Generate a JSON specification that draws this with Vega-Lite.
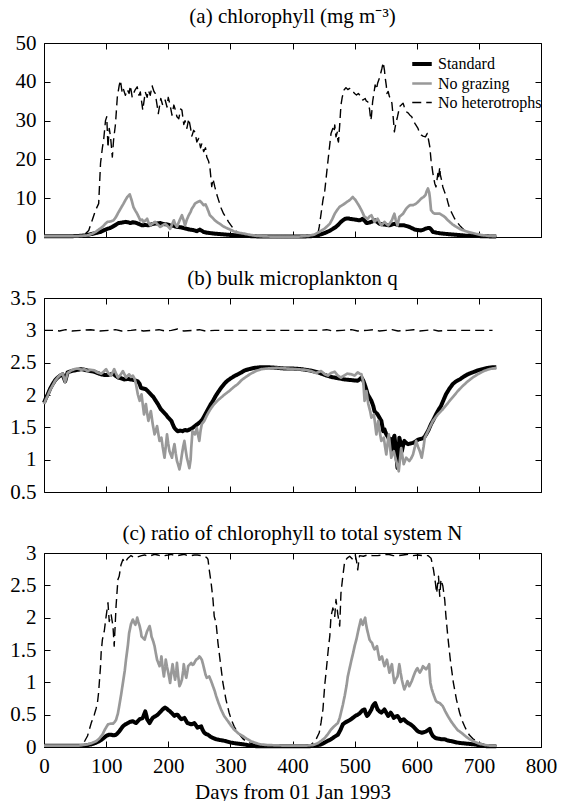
{
"$schema": "https://vega.github.io/schema/vega-lite/v6.json",
"background": "white",
"padding": {"left": 9, "right": 6, "top": 5, "bottom": 0},
"config": {
  "font": "Liberation Serif",
  "view": {"stroke": "black", "strokeWidth": 1},
  "axis": {"domain": false, "grid": false, "ticks": true, "tickSize": -6, "tickColor": "black", "tickWidth": 1, "labelFont": "Liberation Serif", "labelFontSize": 21, "labelColor": "black", "labelPadding": 14, "titleFont": "Liberation Serif", "titleFontSize": 21, "titleFontWeight": "normal", "titleColor": "black", "titlePadding": 5, "labelFlush": false, "labelOverlap": false},
  "title": {"font": "Liberation Serif", "fontSize": 21, "fontWeight": "normal", "color": "black", "anchor": "middle", "frame": "group"}
},
"resolve": {"scale": {"color": "independent", "strokeWidth": "independent", "strokeDash": "independent"}, "legend": {"color": "independent", "strokeWidth": "independent", "strokeDash": "independent"}},
"spacing": 61,
"bounds": "flush",
"datasets": {
"a": [
{"s":"H","d":0,"v":0.1},{"s":"H","d":20,"v":0.1},{"s":"H","d":40,"v":0.1},{"s":"H","d":55,"v":0.2},{"s":"H","d":65,"v":0.6},{"s":"H","d":72,"v":1.7},{"s":"H","d":78,"v":4.5},{"s":"H","d":83,"v":6.9},{"s":"H","d":88,"v":8.6},{"s":"H","d":91,"v":19},{"s":"H","d":94,"v":23},{"s":"H","d":96,"v":25},{"s":"H","d":99,"v":30},{"s":"H","d":101,"v":31},{"s":"H","d":103,"v":23},{"s":"H","d":105,"v":28},{"s":"H","d":107,"v":26},{"s":"H","d":110,"v":20.6},{"s":"H","d":112,"v":25},{"s":"H","d":115,"v":29},{"s":"H","d":118,"v":36},{"s":"H","d":121,"v":39},{"s":"H","d":123,"v":40.4},{"s":"H","d":126,"v":37},{"s":"H","d":128,"v":38},{"s":"H","d":131,"v":36.5},{"s":"H","d":134,"v":38},{"s":"H","d":137,"v":37},{"s":"H","d":139,"v":39},{"s":"H","d":142,"v":36},{"s":"H","d":144,"v":37},{"s":"H","d":147,"v":38},{"s":"H","d":150,"v":38.7},{"s":"H","d":153,"v":36.5},{"s":"H","d":155,"v":37.4},{"s":"H","d":159,"v":32.7},{"s":"H","d":163,"v":37.4},{"s":"H","d":166,"v":36},{"s":"H","d":168,"v":37.8},{"s":"H","d":171,"v":36.5},{"s":"H","d":174,"v":39},{"s":"H","d":177,"v":37.5},{"s":"H","d":179,"v":37},{"s":"H","d":182,"v":34},{"s":"H","d":184,"v":31.8},{"s":"H","d":188,"v":35.7},{"s":"H","d":191,"v":34},{"s":"H","d":195,"v":35.3},{"s":"H","d":198,"v":33.5},{"s":"H","d":200,"v":36},{"s":"H","d":203,"v":34},{"s":"H","d":206,"v":31.4},{"s":"H","d":209,"v":34},{"s":"H","d":211,"v":33},{"s":"H","d":214,"v":31},{"s":"H","d":217,"v":30.5},{"s":"H","d":220,"v":33},{"s":"H","d":222,"v":32.7},{"s":"H","d":225,"v":29},{"s":"H","d":227,"v":30},{"s":"H","d":230,"v":28},{"s":"H","d":233,"v":30.5},{"s":"H","d":236,"v":28},{"s":"H","d":238,"v":26},{"s":"H","d":241,"v":27.5},{"s":"H","d":243,"v":27},{"s":"H","d":246,"v":24.5},{"s":"H","d":249,"v":25.4},{"s":"H","d":252,"v":23},{"s":"H","d":254,"v":24},{"s":"H","d":257,"v":22},{"s":"H","d":260,"v":23},{"s":"H","d":262,"v":20.6},{"s":"H","d":265,"v":19.5},{"s":"H","d":267,"v":18},{"s":"H","d":270,"v":13},{"s":"H","d":272,"v":15},{"s":"H","d":275,"v":12.9},{"s":"H","d":278,"v":11},{"s":"H","d":281,"v":9.5},{"s":"H","d":285,"v":7.5},{"s":"H","d":289,"v":6},{"s":"H","d":293,"v":5},{"s":"H","d":297,"v":3.9},{"s":"H","d":301,"v":3},{"s":"H","d":305,"v":2.1},{"s":"H","d":310,"v":1.4},{"s":"H","d":316,"v":0.9},{"s":"H","d":324,"v":0.5},{"s":"H","d":332,"v":0.3},{"s":"H","d":345,"v":0.15},{"s":"H","d":360,"v":0.1},{"s":"H","d":380,"v":0.1},{"s":"H","d":400,"v":0.1},{"s":"H","d":420,"v":0.15},{"s":"H","d":432,"v":0.4},{"s":"H","d":437,"v":0.7},{"s":"H","d":441,"v":0.9},{"s":"H","d":443,"v":2.6},{"s":"H","d":446,"v":6},{"s":"H","d":449,"v":9.5},{"s":"H","d":452,"v":12},{"s":"H","d":454,"v":15},{"s":"H","d":456,"v":18},{"s":"H","d":459,"v":22.4},{"s":"H","d":462,"v":26.7},{"s":"H","d":465,"v":28},{"s":"H","d":467,"v":27},{"s":"H","d":468,"v":28.9},{"s":"H","d":470,"v":25.8},{"s":"H","d":472,"v":27},{"s":"H","d":473,"v":25},{"s":"H","d":474,"v":24.5},{"s":"H","d":476,"v":28.9},{"s":"H","d":478,"v":34},{"s":"H","d":480,"v":36},{"s":"H","d":483,"v":37.9},{"s":"H","d":486,"v":38.5},{"s":"H","d":489,"v":38},{"s":"H","d":492,"v":38.3},{"s":"H","d":495,"v":37.5},{"s":"H","d":497,"v":37.5},{"s":"H","d":500,"v":37},{"s":"H","d":503,"v":36.6},{"s":"H","d":506,"v":37},{"s":"H","d":508,"v":36.6},{"s":"H","d":511,"v":36},{"s":"H","d":513,"v":35.3},{"s":"H","d":517,"v":35.7},{"s":"H","d":519,"v":35},{"s":"H","d":521,"v":34.9},{"s":"H","d":524,"v":33},{"s":"H","d":526,"v":30.1},{"s":"H","d":527,"v":31},{"s":"H","d":529,"v":34.9},{"s":"H","d":531,"v":37},{"s":"H","d":533,"v":39.2},{"s":"H","d":535,"v":38},{"s":"H","d":537,"v":39.6},{"s":"H","d":540,"v":41},{"s":"H","d":542,"v":42.2},{"s":"H","d":544,"v":43.5},{"s":"H","d":546,"v":45},{"s":"H","d":548,"v":43},{"s":"H","d":549,"v":41.3},{"s":"H","d":551,"v":39},{"s":"H","d":552,"v":37},{"s":"H","d":554,"v":37.5},{"s":"H","d":556,"v":36.2},{"s":"H","d":558,"v":35.5},{"s":"H","d":560,"v":34.5},{"s":"H","d":562,"v":31},{"s":"H","d":564,"v":27.1},{"s":"H","d":566,"v":29},{"s":"H","d":569,"v":31},{"s":"H","d":571,"v":32.5},{"s":"H","d":572,"v":33.6},{"s":"H","d":575,"v":34},{"s":"H","d":578,"v":34.5},{"s":"H","d":580,"v":33.5},{"s":"H","d":583,"v":32.3},{"s":"H","d":586,"v":32},{"s":"H","d":589,"v":31.4},{"s":"H","d":592,"v":31},{"s":"H","d":594,"v":30.1},{"s":"H","d":598,"v":29},{"s":"H","d":602,"v":28},{"s":"H","d":604,"v":27},{"s":"H","d":607,"v":26.3},{"s":"H","d":610,"v":26},{"s":"H","d":614,"v":25.8},{"s":"H","d":617,"v":26.7},{"s":"H","d":619,"v":25},{"s":"H","d":621,"v":23.3},{"s":"H","d":623,"v":19.8},{"s":"H","d":626,"v":16.4},{"s":"H","d":629,"v":13.8},{"s":"H","d":631,"v":12.9},{"s":"H","d":632,"v":14},{"s":"H","d":634,"v":16.4},{"s":"H","d":635,"v":15},{"s":"H","d":637,"v":18},{"s":"H","d":638,"v":16},{"s":"H","d":640,"v":14.6},{"s":"H","d":642,"v":12.9},{"s":"H","d":645,"v":11.5},{"s":"H","d":648,"v":10.3},{"s":"H","d":650,"v":9},{"s":"H","d":653,"v":7.3},{"s":"H","d":657,"v":6},{"s":"H","d":661,"v":4.7},{"s":"H","d":665,"v":3.8},{"s":"H","d":669,"v":3},{"s":"H","d":673,"v":2.3},{"s":"H","d":677,"v":1.7},{"s":"H","d":682,"v":1.2},{"s":"H","d":688,"v":0.9},{"s":"H","d":695,"v":0.5},{"s":"H","d":704,"v":0.3},{"s":"H","d":715,"v":0.15},{"s":"H","d":728,"v":0.1},
{"s":"S","d":0,"v":0.2},{"s":"S","d":20,"v":0.2},{"s":"S","d":40,"v":0.2},{"s":"S","d":55,"v":0.25},{"s":"S","d":65,"v":0.4},{"s":"S","d":72,"v":0.6},{"s":"S","d":80,"v":0.9},{"s":"S","d":86,"v":1.1},{"s":"S","d":91,"v":1.3},{"s":"S","d":96,"v":1.7},{"s":"S","d":102,"v":2.1},{"s":"S","d":106,"v":2.3},{"s":"S","d":110,"v":2.6},{"s":"S","d":115,"v":3.1},{"s":"S","d":120,"v":3.6},{"s":"S","d":125,"v":3.7},{"s":"S","d":131,"v":3.9},{"s":"S","d":135,"v":3.8},{"s":"S","d":139,"v":3.6},{"s":"S","d":143,"v":3.8},{"s":"S","d":147,"v":3.7},{"s":"S","d":152,"v":3.4},{"s":"S","d":158,"v":3.0},{"s":"S","d":163,"v":3.1},{"s":"S","d":168,"v":3.0},{"s":"S","d":172,"v":3.2},{"s":"S","d":176,"v":3.4},{"s":"S","d":182,"v":3.5},{"s":"S","d":187,"v":3.6},{"s":"S","d":191,"v":3.4},{"s":"S","d":195,"v":3.3},{"s":"S","d":199,"v":3.2},{"s":"S","d":203,"v":3.0},{"s":"S","d":208,"v":2.9},{"s":"S","d":214,"v":2.6},{"s":"S","d":220,"v":2.5},{"s":"S","d":225,"v":2.3},{"s":"S","d":230,"v":2.1},{"s":"S","d":235,"v":1.9},{"s":"S","d":240,"v":1.8},{"s":"S","d":246,"v":1.5},{"s":"S","d":251,"v":1.9},{"s":"S","d":254,"v":1.6},{"s":"S","d":257,"v":1.3},{"s":"S","d":262,"v":1.1},{"s":"S","d":268,"v":1.0},{"s":"S","d":273,"v":0.9},{"s":"S","d":283,"v":0.75},{"s":"S","d":294,"v":0.6},{"s":"S","d":308,"v":0.45},{"s":"S","d":321,"v":0.3},{"s":"S","d":335,"v":0.2},{"s":"S","d":353,"v":0.1},{"s":"S","d":370,"v":0.1},{"s":"S","d":390,"v":0.1},{"s":"S","d":410,"v":0.1},{"s":"S","d":430,"v":0.2},{"s":"S","d":440,"v":0.4},{"s":"S","d":446,"v":0.7},{"s":"S","d":453,"v":1.1},{"s":"S","d":460,"v":1.6},{"s":"S","d":465,"v":2.1},{"s":"S","d":470,"v":2.6},{"s":"S","d":474,"v":3.2},{"s":"S","d":478,"v":3.9},{"s":"S","d":482,"v":4.4},{"s":"S","d":485,"v":4.7},{"s":"S","d":489,"v":4.8},{"s":"S","d":492,"v":4.7},{"s":"S","d":496,"v":4.6},{"s":"S","d":500,"v":4.5},{"s":"S","d":504,"v":4.4},{"s":"S","d":508,"v":4.3},{"s":"S","d":511,"v":4.5},{"s":"S","d":513,"v":4.7},{"s":"S","d":516,"v":4.2},{"s":"S","d":519,"v":3.6},{"s":"S","d":523,"v":3.7},{"s":"S","d":527,"v":3.9},{"s":"S","d":530,"v":4.1},{"s":"S","d":533,"v":4.3},{"s":"S","d":537,"v":3.8},{"s":"S","d":540,"v":3.4},{"s":"S","d":544,"v":3.3},{"s":"S","d":548,"v":3.2},{"s":"S","d":552,"v":3.1},{"s":"S","d":556,"v":3.0},{"s":"S","d":560,"v":3.2},{"s":"S","d":564,"v":3.4},{"s":"S","d":568,"v":3.2},{"s":"S","d":572,"v":3.0},{"s":"S","d":576,"v":3.0},{"s":"S","d":580,"v":3.0},{"s":"S","d":584,"v":2.8},{"s":"S","d":588,"v":2.6},{"s":"S","d":592,"v":2.3},{"s":"S","d":597,"v":1.9},{"s":"S","d":602,"v":1.8},{"s":"S","d":607,"v":1.7},{"s":"S","d":611,"v":1.9},{"s":"S","d":615,"v":2.2},{"s":"S","d":618,"v":2.3},{"s":"S","d":621,"v":2.3},{"s":"S","d":624,"v":1.8},{"s":"S","d":626,"v":1.3},{"s":"S","d":632,"v":1.1},{"s":"S","d":640,"v":0.9},{"s":"S","d":650,"v":0.75},{"s":"S","d":661,"v":0.6},{"s":"S","d":672,"v":0.45},{"s":"S","d":682,"v":0.3},{"s":"S","d":695,"v":0.25},{"s":"S","d":709,"v":0.2},{"s":"S","d":728,"v":0.1},
{"s":"G","d":0,"v":0.2},{"s":"G","d":20,"v":0.2},{"s":"G","d":40,"v":0.2},{"s":"G","d":55,"v":0.25},{"s":"G","d":65,"v":0.35},{"s":"G","d":70,"v":0.4},{"s":"G","d":77,"v":0.8},{"s":"G","d":83,"v":1.3},{"s":"G","d":88,"v":1.9},{"s":"G","d":94,"v":2.6},{"s":"G","d":98,"v":3.3},{"s":"G","d":102,"v":3.9},{"s":"G","d":107,"v":4.0},{"s":"G","d":112,"v":4.3},{"s":"G","d":116,"v":5.2},{"s":"G","d":120,"v":6.4},{"s":"G","d":124,"v":7.5},{"s":"G","d":128,"v":8.6},{"s":"G","d":131,"v":9.5},{"s":"G","d":134,"v":10.3},{"s":"G","d":138,"v":11},{"s":"G","d":141,"v":9.5},{"s":"G","d":144,"v":7.7},{"s":"G","d":147,"v":6.8},{"s":"G","d":150,"v":6},{"s":"G","d":153,"v":5},{"s":"G","d":155,"v":4.3},{"s":"G","d":158,"v":4.5},{"s":"G","d":160,"v":3.9},{"s":"G","d":163,"v":4.2},{"s":"G","d":166,"v":4.7},{"s":"G","d":168,"v":3.8},{"s":"G","d":171,"v":3},{"s":"G","d":175,"v":3.5},{"s":"G","d":179,"v":3.9},{"s":"G","d":183,"v":3.2},{"s":"G","d":187,"v":2.6},{"s":"G","d":191,"v":3.0},{"s":"G","d":195,"v":3.4},{"s":"G","d":199,"v":2.8},{"s":"G","d":203,"v":2.1},{"s":"G","d":206,"v":3.2},{"s":"G","d":209,"v":4.3},{"s":"G","d":211,"v":3.4},{"s":"G","d":214,"v":2.6},{"s":"G","d":218,"v":4.2},{"s":"G","d":222,"v":5.6},{"s":"G","d":225,"v":4.2},{"s":"G","d":227,"v":3},{"s":"G","d":230,"v":4.5},{"s":"G","d":233,"v":5.6},{"s":"G","d":236,"v":6.5},{"s":"G","d":238,"v":7.3},{"s":"G","d":241,"v":8},{"s":"G","d":243,"v":8.6},{"s":"G","d":247,"v":9.0},{"s":"G","d":251,"v":9.3},{"s":"G","d":254,"v":8.8},{"s":"G","d":257,"v":8.2},{"s":"G","d":260,"v":8.4},{"s":"G","d":262,"v":7.7},{"s":"G","d":265,"v":6.5},{"s":"G","d":267,"v":5.6},{"s":"G","d":271,"v":5.0},{"s":"G","d":275,"v":4.3},{"s":"G","d":279,"v":3.8},{"s":"G","d":283,"v":3.4},{"s":"G","d":288,"v":2.8},{"s":"G","d":294,"v":2.3},{"s":"G","d":300,"v":1.9},{"s":"G","d":305,"v":1.5},{"s":"G","d":313,"v":1.1},{"s":"G","d":321,"v":0.9},{"s":"G","d":330,"v":0.6},{"s":"G","d":342,"v":0.3},{"s":"G","d":355,"v":0.15},{"s":"G","d":370,"v":0.1},{"s":"G","d":390,"v":0.1},{"s":"G","d":410,"v":0.1},{"s":"G","d":425,"v":0.3},{"s":"G","d":435,"v":0.6},{"s":"G","d":443,"v":1.3},{"s":"G","d":448,"v":1.8},{"s":"G","d":452,"v":2.2},{"s":"G","d":456,"v":2.8},{"s":"G","d":460,"v":3.4},{"s":"G","d":464,"v":4.6},{"s":"G","d":468,"v":6},{"s":"G","d":472,"v":7},{"s":"G","d":476,"v":7.8},{"s":"G","d":480,"v":8.2},{"s":"G","d":484,"v":8.6},{"s":"G","d":488,"v":9.1},{"s":"G","d":492,"v":9.5},{"s":"G","d":497,"v":10.3},{"s":"G","d":501,"v":9.6},{"s":"G","d":505,"v":8.6},{"s":"G","d":508,"v":7.8},{"s":"G","d":511,"v":6.9},{"s":"G","d":516,"v":5.2},{"s":"G","d":521,"v":4.7},{"s":"G","d":524,"v":5.3},{"s":"G","d":527,"v":5.6},{"s":"G","d":530,"v":4.6},{"s":"G","d":532,"v":3.9},{"s":"G","d":535,"v":4.4},{"s":"G","d":537,"v":4.7},{"s":"G","d":540,"v":3.8},{"s":"G","d":543,"v":3},{"s":"G","d":546,"v":3.5},{"s":"G","d":548,"v":3.9},{"s":"G","d":551,"v":3.4},{"s":"G","d":554,"v":3},{"s":"G","d":557,"v":3.6},{"s":"G","d":560,"v":4.3},{"s":"G","d":562,"v":5.2},{"s":"G","d":564,"v":6},{"s":"G","d":566,"v":4.5},{"s":"G","d":569,"v":3},{"s":"G","d":572,"v":5.2},{"s":"G","d":575,"v":5.6},{"s":"G","d":578,"v":6},{"s":"G","d":581,"v":6.8},{"s":"G","d":583,"v":7.3},{"s":"G","d":586,"v":7.8},{"s":"G","d":589,"v":8.2},{"s":"G","d":594,"v":8.2},{"s":"G","d":599,"v":8.6},{"s":"G","d":603,"v":9.2},{"s":"G","d":607,"v":9.9},{"s":"G","d":611,"v":10.3},{"s":"G","d":614,"v":10.8},{"s":"G","d":616,"v":11.8},{"s":"G","d":618,"v":12.5},{"s":"G","d":620,"v":11.5},{"s":"G","d":621,"v":10.3},{"s":"G","d":623,"v":6.9},{"s":"G","d":626,"v":6.3},{"s":"G","d":629,"v":6},{"s":"G","d":633,"v":6},{"s":"G","d":637,"v":6},{"s":"G","d":641,"v":5.6},{"s":"G","d":645,"v":5.2},{"s":"G","d":649,"v":4.5},{"s":"G","d":653,"v":3.9},{"s":"G","d":658,"v":3.2},{"s":"G","d":664,"v":2.6},{"s":"G","d":670,"v":2},{"s":"G","d":677,"v":1.6},{"s":"G","d":685,"v":1.2},{"s":"G","d":693,"v":0.9},{"s":"G","d":704,"v":0.5},{"s":"G","d":715,"v":0.3},{"s":"G","d":728,"v":0.2}
],
"b": [
{"s":"H","d":0,"v":3.0},{"s":"H","d":15,"v":3.0},{"s":"H","d":25,"v":2.99},{"s":"H","d":35,"v":3.01},{"s":"H","d":45,"v":2.99},{"s":"H","d":60,"v":3.0},{"s":"H","d":75,"v":3.01},{"s":"H","d":90,"v":2.99},{"s":"H","d":105,"v":3.0},{"s":"H","d":115,"v":3.01},{"s":"H","d":125,"v":2.99},{"s":"H","d":140,"v":3.0},{"s":"H","d":150,"v":3.01},{"s":"H","d":160,"v":2.99},{"s":"H","d":175,"v":3.0},{"s":"H","d":185,"v":3.01},{"s":"H","d":195,"v":2.99},{"s":"H","d":205,"v":3.0},{"s":"H","d":215,"v":3.02},{"s":"H","d":225,"v":2.99},{"s":"H","d":240,"v":3.0},{"s":"H","d":250,"v":3.01},{"s":"H","d":260,"v":2.99},{"s":"H","d":275,"v":3.0},{"s":"H","d":290,"v":3.0},{"s":"H","d":310,"v":3.0},{"s":"H","d":330,"v":3.0},{"s":"H","d":350,"v":3.0},{"s":"H","d":370,"v":3.0},{"s":"H","d":390,"v":3.0},{"s":"H","d":410,"v":3.0},{"s":"H","d":430,"v":3.0},{"s":"H","d":445,"v":3.0},{"s":"H","d":455,"v":3.01},{"s":"H","d":465,"v":2.99},{"s":"H","d":480,"v":3.0},{"s":"H","d":495,"v":3.01},{"s":"H","d":505,"v":2.99},{"s":"H","d":520,"v":3.0},{"s":"H","d":530,"v":3.01},{"s":"H","d":540,"v":2.99},{"s":"H","d":550,"v":3.0},{"s":"H","d":560,"v":3.01},{"s":"H","d":570,"v":2.99},{"s":"H","d":585,"v":3.0},{"s":"H","d":595,"v":3.01},{"s":"H","d":605,"v":2.99},{"s":"H","d":615,"v":3.0},{"s":"H","d":625,"v":3.01},{"s":"H","d":635,"v":2.99},{"s":"H","d":650,"v":3.0},{"s":"H","d":665,"v":3.0},{"s":"H","d":680,"v":3.0},{"s":"H","d":700,"v":3.0},{"s":"H","d":722,"v":3.0},
{"s":"S","d":0,"v":1.88},{"s":"S","d":3,"v":1.95},{"s":"S","d":6,"v":2.01},{"s":"S","d":10,"v":2.1},{"s":"S","d":14,"v":2.17},{"s":"S","d":18,"v":2.23},{"s":"S","d":22,"v":2.27},{"s":"S","d":26,"v":2.3},{"s":"S","d":30,"v":2.32},{"s":"S","d":34,"v":2.21},{"s":"S","d":38,"v":2.35},{"s":"S","d":44,"v":2.37},{"s":"S","d":49,"v":2.38},{"s":"S","d":55,"v":2.39},{"s":"S","d":60,"v":2.4},{"s":"S","d":65,"v":2.39},{"s":"S","d":70,"v":2.38},{"s":"S","d":75,"v":2.37},{"s":"S","d":81,"v":2.36},{"s":"S","d":86,"v":2.34},{"s":"S","d":92,"v":2.32},{"s":"S","d":97,"v":2.31},{"s":"S","d":103,"v":2.31},{"s":"S","d":108,"v":2.32},{"s":"S","d":111,"v":2.33},{"s":"S","d":115,"v":2.3},{"s":"S","d":119,"v":2.27},{"s":"S","d":124,"v":2.26},{"s":"S","d":129,"v":2.24},{"s":"S","d":135,"v":2.25},{"s":"S","d":140,"v":2.24},{"s":"S","d":146,"v":2.23},{"s":"S","d":151,"v":2.21},{"s":"S","d":154,"v":2.17},{"s":"S","d":156,"v":2.11},{"s":"S","d":160,"v":2.1},{"s":"S","d":164,"v":2.09},{"s":"S","d":168,"v":2.05},{"s":"S","d":172,"v":2.01},{"s":"S","d":176,"v":1.97},{"s":"S","d":180,"v":1.91},{"s":"S","d":184,"v":1.85},{"s":"S","d":188,"v":1.78},{"s":"S","d":192,"v":1.74},{"s":"S","d":196,"v":1.7},{"s":"S","d":200,"v":1.65},{"s":"S","d":205,"v":1.6},{"s":"S","d":208,"v":1.53},{"s":"S","d":210,"v":1.49},{"s":"S","d":213,"v":1.46},{"s":"S","d":215,"v":1.44},{"s":"S","d":219,"v":1.45},{"s":"S","d":223,"v":1.44},{"s":"S","d":227,"v":1.46},{"s":"S","d":231,"v":1.45},{"s":"S","d":235,"v":1.47},{"s":"S","d":239,"v":1.49},{"s":"S","d":243,"v":1.52},{"s":"S","d":247,"v":1.55},{"s":"S","d":251,"v":1.58},{"s":"S","d":255,"v":1.62},{"s":"S","d":259,"v":1.69},{"s":"S","d":264,"v":1.78},{"s":"S","d":268,"v":1.85},{"s":"S","d":272,"v":1.91},{"s":"S","d":276,"v":1.98},{"s":"S","d":280,"v":2.04},{"s":"S","d":285,"v":2.11},{"s":"S","d":290,"v":2.17},{"s":"S","d":295,"v":2.22},{"s":"S","d":301,"v":2.26},{"s":"S","d":306,"v":2.29},{"s":"S","d":312,"v":2.32},{"s":"S","d":318,"v":2.35},{"s":"S","d":323,"v":2.38},{"s":"S","d":330,"v":2.4},{"s":"S","d":339,"v":2.42},{"s":"S","d":350,"v":2.43},{"s":"S","d":360,"v":2.43},{"s":"S","d":375,"v":2.42},{"s":"S","d":387,"v":2.41},{"s":"S","d":400,"v":2.41},{"s":"S","d":414,"v":2.4},{"s":"S","d":428,"v":2.38},{"s":"S","d":441,"v":2.35},{"s":"S","d":452,"v":2.31},{"s":"S","d":462,"v":2.28},{"s":"S","d":473,"v":2.26},{"s":"S","d":484,"v":2.24},{"s":"S","d":495,"v":2.23},{"s":"S","d":505,"v":2.22},{"s":"S","d":509,"v":2.25},{"s":"S","d":511,"v":2.27},{"s":"S","d":514,"v":2.22},{"s":"S","d":516,"v":2.17},{"s":"S","d":519,"v":2.08},{"s":"S","d":521,"v":2.01},{"s":"S","d":524,"v":1.96},{"s":"S","d":527,"v":1.91},{"s":"S","d":530,"v":1.83},{"s":"S","d":532,"v":1.75},{"s":"S","d":535,"v":1.72},{"s":"S","d":537,"v":1.7},{"s":"S","d":540,"v":1.65},{"s":"S","d":543,"v":1.6},{"s":"S","d":546,"v":1.44},{"s":"S","d":548,"v":1.47},{"s":"S","d":551,"v":1.39},{"s":"S","d":554,"v":1.35},{"s":"S","d":556,"v":1.29},{"s":"S","d":558,"v":1.32},{"s":"S","d":560,"v":1.13},{"s":"S","d":562,"v":1.3},{"s":"S","d":564,"v":1.37},{"s":"S","d":566,"v":1.2},{"s":"S","d":569,"v":0.87},{"s":"S","d":571,"v":1.1},{"s":"S","d":572,"v":1.34},{"s":"S","d":574,"v":1.25},{"s":"S","d":576,"v":1.13},{"s":"S","d":578,"v":1.22},{"s":"S","d":580,"v":1.29},{"s":"S","d":583,"v":1.26},{"s":"S","d":586,"v":1.24},{"s":"S","d":590,"v":1.25},{"s":"S","d":594,"v":1.26},{"s":"S","d":598,"v":1.28},{"s":"S","d":602,"v":1.31},{"s":"S","d":606,"v":1.32},{"s":"S","d":610,"v":1.33},{"s":"S","d":613,"v":1.36},{"s":"S","d":615,"v":1.39},{"s":"S","d":619,"v":1.46},{"s":"S","d":623,"v":1.55},{"s":"S","d":627,"v":1.62},{"s":"S","d":631,"v":1.7},{"s":"S","d":635,"v":1.77},{"s":"S","d":639,"v":1.83},{"s":"S","d":643,"v":1.92},{"s":"S","d":647,"v":2.01},{"s":"S","d":652,"v":2.09},{"s":"S","d":658,"v":2.17},{"s":"S","d":663,"v":2.21},{"s":"S","d":669,"v":2.24},{"s":"S","d":675,"v":2.28},{"s":"S","d":682,"v":2.32},{"s":"S","d":690,"v":2.35},{"s":"S","d":698,"v":2.38},{"s":"S","d":706,"v":2.4},{"s":"S","d":715,"v":2.42},{"s":"S","d":723,"v":2.43},{"s":"S","d":728,"v":2.43},
{"s":"G","d":0,"v":1.86},{"s":"G","d":3,"v":1.93},{"s":"G","d":6,"v":1.99},{"s":"G","d":10,"v":2.08},{"s":"G","d":14,"v":2.15},{"s":"G","d":18,"v":2.22},{"s":"G","d":22,"v":2.27},{"s":"G","d":26,"v":2.31},{"s":"G","d":30,"v":2.33},{"s":"G","d":34,"v":2.2},{"s":"G","d":38,"v":2.34},{"s":"G","d":44,"v":2.38},{"s":"G","d":49,"v":2.4},{"s":"G","d":54,"v":2.41},{"s":"G","d":60,"v":2.39},{"s":"G","d":65,"v":2.4},{"s":"G","d":70,"v":2.37},{"s":"G","d":75,"v":2.39},{"s":"G","d":81,"v":2.38},{"s":"G","d":86,"v":2.35},{"s":"G","d":92,"v":2.33},{"s":"G","d":96,"v":2.36},{"s":"G","d":100,"v":2.4},{"s":"G","d":104,"v":2.33},{"s":"G","d":108,"v":2.3},{"s":"G","d":113,"v":2.4},{"s":"G","d":116,"v":2.33},{"s":"G","d":119,"v":2.27},{"s":"G","d":123,"v":2.31},{"s":"G","d":127,"v":2.37},{"s":"G","d":132,"v":2.27},{"s":"G","d":137,"v":2.32},{"s":"G","d":140,"v":2.28},{"s":"G","d":143,"v":2.3},{"s":"G","d":146,"v":2.25},{"s":"G","d":148,"v":2.17},{"s":"G","d":151,"v":2.01},{"s":"G","d":154,"v":1.91},{"s":"G","d":157,"v":2.01},{"s":"G","d":159,"v":1.85},{"s":"G","d":161,"v":1.7},{"s":"G","d":164,"v":1.86},{"s":"G","d":166,"v":1.72},{"s":"G","d":168,"v":1.6},{"s":"G","d":170,"v":1.68},{"s":"G","d":172,"v":1.75},{"s":"G","d":175,"v":1.55},{"s":"G","d":178,"v":1.39},{"s":"G","d":180,"v":1.45},{"s":"G","d":182,"v":1.52},{"s":"G","d":184,"v":1.4},{"s":"G","d":186,"v":1.29},{"s":"G","d":189,"v":1.34},{"s":"G","d":191,"v":1.2},{"s":"G","d":194,"v":1.03},{"s":"G","d":196,"v":1.2},{"s":"G","d":198,"v":1.39},{"s":"G","d":200,"v":1.25},{"s":"G","d":202,"v":1.13},{"s":"G","d":204,"v":1.08},{"s":"G","d":206,"v":1.03},{"s":"G","d":208,"v":1.15},{"s":"G","d":210,"v":1.24},{"s":"G","d":212,"v":1.1},{"s":"G","d":214,"v":0.98},{"s":"G","d":216,"v":0.92},{"s":"G","d":218,"v":0.85},{"s":"G","d":220,"v":0.95},{"s":"G","d":222,"v":1.08},{"s":"G","d":224,"v":1.2},{"s":"G","d":226,"v":1.29},{"s":"G","d":228,"v":1.15},{"s":"G","d":230,"v":1.03},{"s":"G","d":232,"v":0.95},{"s":"G","d":234,"v":0.87},{"s":"G","d":236,"v":1.0},{"s":"G","d":237,"v":1.18},{"s":"G","d":239,"v":1.44},{"s":"G","d":241,"v":1.42},{"s":"G","d":243,"v":1.39},{"s":"G","d":246,"v":1.49},{"s":"G","d":248,"v":1.38},{"s":"G","d":250,"v":1.29},{"s":"G","d":252,"v":1.45},{"s":"G","d":254,"v":1.55},{"s":"G","d":258,"v":1.6},{"s":"G","d":262,"v":1.68},{"s":"G","d":266,"v":1.75},{"s":"G","d":270,"v":1.81},{"s":"G","d":274,"v":1.86},{"s":"G","d":280,"v":1.92},{"s":"G","d":285,"v":1.96},{"s":"G","d":291,"v":2.01},{"s":"G","d":298,"v":2.06},{"s":"G","d":305,"v":2.12},{"s":"G","d":312,"v":2.17},{"s":"G","d":318,"v":2.23},{"s":"G","d":325,"v":2.28},{"s":"G","d":333,"v":2.33},{"s":"G","d":341,"v":2.37},{"s":"G","d":350,"v":2.4},{"s":"G","d":360,"v":2.41},{"s":"G","d":375,"v":2.42},{"s":"G","d":390,"v":2.41},{"s":"G","d":405,"v":2.4},{"s":"G","d":420,"v":2.39},{"s":"G","d":430,"v":2.37},{"s":"G","d":438,"v":2.34},{"s":"G","d":446,"v":2.37},{"s":"G","d":452,"v":2.32},{"s":"G","d":457,"v":2.3},{"s":"G","d":462,"v":2.34},{"s":"G","d":468,"v":2.36},{"s":"G","d":473,"v":2.3},{"s":"G","d":478,"v":2.27},{"s":"G","d":483,"v":2.3},{"s":"G","d":488,"v":2.33},{"s":"G","d":495,"v":2.32},{"s":"G","d":500,"v":2.3},{"s":"G","d":505,"v":2.35},{"s":"G","d":508,"v":2.33},{"s":"G","d":511,"v":2.32},{"s":"G","d":514,"v":2.2},{"s":"G","d":516,"v":1.91},{"s":"G","d":519,"v":2.06},{"s":"G","d":522,"v":1.86},{"s":"G","d":525,"v":1.75},{"s":"G","d":527,"v":1.65},{"s":"G","d":531,"v":1.7},{"s":"G","d":533,"v":1.55},{"s":"G","d":535,"v":1.39},{"s":"G","d":538,"v":1.6},{"s":"G","d":540,"v":1.45},{"s":"G","d":543,"v":1.29},{"s":"G","d":547,"v":1.34},{"s":"G","d":549,"v":1.2},{"s":"G","d":551,"v":1.08},{"s":"G","d":553,"v":1.25},{"s":"G","d":555,"v":1.39},{"s":"G","d":557,"v":1.2},{"s":"G","d":559,"v":1.03},{"s":"G","d":561,"v":1.1},{"s":"G","d":563,"v":1.13},{"s":"G","d":565,"v":1.05},{"s":"G","d":567,"v":0.98},{"s":"G","d":569,"v":0.9},{"s":"G","d":571,"v":0.82},{"s":"G","d":573,"v":1.0},{"s":"G","d":575,"v":1.18},{"s":"G","d":577,"v":1.05},{"s":"G","d":579,"v":0.93},{"s":"G","d":581,"v":0.98},{"s":"G","d":583,"v":1.03},{"s":"G","d":586,"v":1.0},{"s":"G","d":588,"v":0.98},{"s":"G","d":591,"v":1.02},{"s":"G","d":594,"v":1.08},{"s":"G","d":597,"v":1.2},{"s":"G","d":599,"v":1.29},{"s":"G","d":602,"v":1.2},{"s":"G","d":605,"v":1.13},{"s":"G","d":608,"v":1.03},{"s":"G","d":611,"v":1.2},{"s":"G","d":613,"v":1.34},{"s":"G","d":616,"v":1.4},{"s":"G","d":618,"v":1.44},{"s":"G","d":622,"v":1.52},{"s":"G","d":626,"v":1.6},{"s":"G","d":630,"v":1.65},{"s":"G","d":634,"v":1.7},{"s":"G","d":638,"v":1.74},{"s":"G","d":642,"v":1.78},{"s":"G","d":648,"v":1.85},{"s":"G","d":653,"v":1.91},{"s":"G","d":660,"v":1.99},{"s":"G","d":666,"v":2.06},{"s":"G","d":674,"v":2.14},{"s":"G","d":682,"v":2.21},{"s":"G","d":690,"v":2.27},{"s":"G","d":698,"v":2.32},{"s":"G","d":708,"v":2.37},{"s":"G","d":717,"v":2.4},{"s":"G","d":728,"v":2.42}
],
"c": [
{"s":"H","d":0,"v":0.02},{"s":"H","d":20,"v":0.02},{"s":"H","d":40,"v":0.02},{"s":"H","d":55,"v":0.02},{"s":"H","d":62,"v":0.04},{"s":"H","d":66,"v":0.1},{"s":"H","d":70,"v":0.17},{"s":"H","d":73,"v":0.27},{"s":"H","d":76,"v":0.37},{"s":"H","d":79,"v":0.45},{"s":"H","d":81,"v":0.5},{"s":"H","d":84,"v":0.6},{"s":"H","d":86,"v":0.68},{"s":"H","d":88,"v":0.85},{"s":"H","d":89,"v":0.99},{"s":"H","d":91,"v":1.25},{"s":"H","d":92,"v":1.46},{"s":"H","d":94,"v":1.66},{"s":"H","d":97,"v":1.79},{"s":"H","d":100,"v":2.02},{"s":"H","d":103,"v":2.23},{"s":"H","d":105,"v":1.94},{"s":"H","d":108,"v":2.05},{"s":"H","d":111,"v":1.87},{"s":"H","d":113,"v":1.56},{"s":"H","d":116,"v":2.18},{"s":"H","d":119,"v":2.59},{"s":"H","d":121,"v":2.64},{"s":"H","d":124,"v":2.82},{"s":"H","d":127,"v":2.9},{"s":"H","d":130,"v":2.85},{"s":"H","d":135,"v":2.92},{"s":"H","d":140,"v":2.96},{"s":"H","d":145,"v":2.93},{"s":"H","d":151,"v":2.94},{"s":"H","d":157,"v":2.96},{"s":"H","d":162,"v":2.97},{"s":"H","d":167,"v":2.95},{"s":"H","d":172,"v":2.96},{"s":"H","d":178,"v":2.98},{"s":"H","d":183,"v":2.97},{"s":"H","d":189,"v":2.95},{"s":"H","d":194,"v":2.96},{"s":"H","d":200,"v":2.97},{"s":"H","d":205,"v":2.98},{"s":"H","d":210,"v":2.96},{"s":"H","d":215,"v":2.96},{"s":"H","d":220,"v":2.97},{"s":"H","d":226,"v":2.98},{"s":"H","d":231,"v":2.96},{"s":"H","d":237,"v":2.96},{"s":"H","d":242,"v":2.97},{"s":"H","d":247,"v":2.97},{"s":"H","d":253,"v":2.96},{"s":"H","d":258,"v":2.95},{"s":"H","d":262,"v":2.93},{"s":"H","d":264,"v":2.9},{"s":"H","d":266,"v":2.74},{"s":"H","d":269,"v":2.54},{"s":"H","d":272,"v":2.28},{"s":"H","d":274,"v":2.02},{"s":"H","d":277,"v":1.92},{"s":"H","d":280,"v":1.61},{"s":"H","d":284,"v":1.3},{"s":"H","d":288,"v":0.99},{"s":"H","d":293,"v":0.73},{"s":"H","d":298,"v":0.53},{"s":"H","d":302,"v":0.41},{"s":"H","d":306,"v":0.32},{"s":"H","d":310,"v":0.25},{"s":"H","d":315,"v":0.19},{"s":"H","d":320,"v":0.13},{"s":"H","d":325,"v":0.09},{"s":"H","d":332,"v":0.06},{"s":"H","d":339,"v":0.04},{"s":"H","d":350,"v":0.03},{"s":"H","d":370,"v":0.02},{"s":"H","d":400,"v":0.02},{"s":"H","d":420,"v":0.02},{"s":"H","d":430,"v":0.04},{"s":"H","d":435,"v":0.08},{"s":"H","d":438,"v":0.12},{"s":"H","d":443,"v":0.22},{"s":"H","d":446,"v":0.38},{"s":"H","d":449,"v":0.58},{"s":"H","d":452,"v":0.97},{"s":"H","d":454,"v":1.15},{"s":"H","d":456,"v":1.35},{"s":"H","d":458,"v":1.55},{"s":"H","d":460,"v":1.71},{"s":"H","d":462,"v":2.02},{"s":"H","d":465,"v":2.15},{"s":"H","d":468,"v":2.02},{"s":"H","d":470,"v":2.28},{"s":"H","d":473,"v":2.05},{"s":"H","d":476,"v":1.87},{"s":"H","d":478,"v":2.38},{"s":"H","d":481,"v":2.64},{"s":"H","d":484,"v":2.87},{"s":"H","d":488,"v":2.92},{"s":"H","d":492,"v":2.95},{"s":"H","d":497,"v":2.9},{"s":"H","d":501,"v":2.97},{"s":"H","d":503,"v":2.88},{"s":"H","d":505,"v":2.74},{"s":"H","d":507,"v":2.9},{"s":"H","d":508,"v":2.96},{"s":"H","d":514,"v":2.95},{"s":"H","d":521,"v":2.97},{"s":"H","d":529,"v":2.96},{"s":"H","d":537,"v":2.96},{"s":"H","d":545,"v":2.97},{"s":"H","d":554,"v":2.98},{"s":"H","d":562,"v":2.96},{"s":"H","d":570,"v":2.96},{"s":"H","d":578,"v":2.97},{"s":"H","d":586,"v":2.98},{"s":"H","d":594,"v":2.96},{"s":"H","d":602,"v":2.97},{"s":"H","d":610,"v":2.96},{"s":"H","d":618,"v":2.96},{"s":"H","d":623,"v":2.92},{"s":"H","d":627,"v":2.74},{"s":"H","d":630,"v":2.54},{"s":"H","d":632,"v":2.38},{"s":"H","d":635,"v":2.64},{"s":"H","d":637,"v":2.33},{"s":"H","d":639,"v":2.59},{"s":"H","d":642,"v":2.49},{"s":"H","d":645,"v":2.28},{"s":"H","d":647,"v":2.02},{"s":"H","d":650,"v":1.71},{"s":"H","d":654,"v":1.35},{"s":"H","d":659,"v":0.99},{"s":"H","d":664,"v":0.73},{"s":"H","d":669,"v":0.53},{"s":"H","d":673,"v":0.41},{"s":"H","d":677,"v":0.32},{"s":"H","d":681,"v":0.24},{"s":"H","d":685,"v":0.18},{"s":"H","d":690,"v":0.13},{"s":"H","d":696,"v":0.09},{"s":"H","d":702,"v":0.06},{"s":"H","d":709,"v":0.04},{"s":"H","d":718,"v":0.03},{"s":"H","d":728,"v":0.02},
{"s":"S","d":0,"v":0.02},{"s":"S","d":20,"v":0.02},{"s":"S","d":40,"v":0.02},{"s":"S","d":55,"v":0.02},{"s":"S","d":65,"v":0.02},{"s":"S","d":70,"v":0.03},{"s":"S","d":76,"v":0.04},{"s":"S","d":82,"v":0.06},{"s":"S","d":89,"v":0.09},{"s":"S","d":95,"v":0.13},{"s":"S","d":100,"v":0.17},{"s":"S","d":104,"v":0.19},{"s":"S","d":108,"v":0.19},{"s":"S","d":112,"v":0.18},{"s":"S","d":116,"v":0.19},{"s":"S","d":121,"v":0.24},{"s":"S","d":124,"v":0.28},{"s":"S","d":127,"v":0.32},{"s":"S","d":131,"v":0.35},{"s":"S","d":135,"v":0.37},{"s":"S","d":139,"v":0.39},{"s":"S","d":143,"v":0.4},{"s":"S","d":146,"v":0.38},{"s":"S","d":148,"v":0.37},{"s":"S","d":151,"v":0.4},{"s":"S","d":154,"v":0.43},{"s":"S","d":157,"v":0.44},{"s":"S","d":159,"v":0.45},{"s":"S","d":161,"v":0.5},{"s":"S","d":163,"v":0.55},{"s":"S","d":165,"v":0.48},{"s":"S","d":166,"v":0.43},{"s":"S","d":168,"v":0.4},{"s":"S","d":170,"v":0.37},{"s":"S","d":173,"v":0.42},{"s":"S","d":175,"v":0.45},{"s":"S","d":178,"v":0.47},{"s":"S","d":180,"v":0.48},{"s":"S","d":183,"v":0.5},{"s":"S","d":186,"v":0.53},{"s":"S","d":189,"v":0.56},{"s":"S","d":191,"v":0.58},{"s":"S","d":193,"v":0.6},{"s":"S","d":195,"v":0.61},{"s":"S","d":198,"v":0.59},{"s":"S","d":200,"v":0.57},{"s":"S","d":203,"v":0.55},{"s":"S","d":205,"v":0.53},{"s":"S","d":208,"v":0.5},{"s":"S","d":210,"v":0.48},{"s":"S","d":213,"v":0.5},{"s":"S","d":215,"v":0.5},{"s":"S","d":218,"v":0.46},{"s":"S","d":221,"v":0.43},{"s":"S","d":224,"v":0.44},{"s":"S","d":226,"v":0.45},{"s":"S","d":229,"v":0.4},{"s":"S","d":231,"v":0.37},{"s":"S","d":234,"v":0.36},{"s":"S","d":237,"v":0.35},{"s":"S","d":240,"v":0.36},{"s":"S","d":242,"v":0.37},{"s":"S","d":245,"v":0.33},{"s":"S","d":247,"v":0.3},{"s":"S","d":250,"v":0.31},{"s":"S","d":253,"v":0.32},{"s":"S","d":255,"v":0.27},{"s":"S","d":258,"v":0.22},{"s":"S","d":261,"v":0.2},{"s":"S","d":264,"v":0.19},{"s":"S","d":268,"v":0.16},{"s":"S","d":272,"v":0.14},{"s":"S","d":277,"v":0.12},{"s":"S","d":282,"v":0.11},{"s":"S","d":288,"v":0.1},{"s":"S","d":293,"v":0.09},{"s":"S","d":300,"v":0.07},{"s":"S","d":306,"v":0.06},{"s":"S","d":314,"v":0.05},{"s":"S","d":322,"v":0.04},{"s":"S","d":333,"v":0.02},{"s":"S","d":344,"v":0.01},{"s":"S","d":370,"v":0.01},{"s":"S","d":400,"v":0.01},{"s":"S","d":425,"v":0.01},{"s":"S","d":436,"v":0.02},{"s":"S","d":446,"v":0.04},{"s":"S","d":454,"v":0.08},{"s":"S","d":462,"v":0.12},{"s":"S","d":468,"v":0.16},{"s":"S","d":473,"v":0.19},{"s":"S","d":477,"v":0.26},{"s":"S","d":481,"v":0.35},{"s":"S","d":485,"v":0.38},{"s":"S","d":489,"v":0.4},{"s":"S","d":493,"v":0.42},{"s":"S","d":497,"v":0.45},{"s":"S","d":501,"v":0.48},{"s":"S","d":505,"v":0.5},{"s":"S","d":508,"v":0.52},{"s":"S","d":511,"v":0.55},{"s":"S","d":513,"v":0.57},{"s":"S","d":516,"v":0.58},{"s":"S","d":518,"v":0.52},{"s":"S","d":520,"v":0.48},{"s":"S","d":522,"v":0.5},{"s":"S","d":524,"v":0.53},{"s":"S","d":527,"v":0.58},{"s":"S","d":529,"v":0.63},{"s":"S","d":531,"v":0.66},{"s":"S","d":533,"v":0.68},{"s":"S","d":535,"v":0.63},{"s":"S","d":537,"v":0.58},{"s":"S","d":540,"v":0.55},{"s":"S","d":543,"v":0.53},{"s":"S","d":546,"v":0.56},{"s":"S","d":548,"v":0.58},{"s":"S","d":551,"v":0.53},{"s":"S","d":554,"v":0.48},{"s":"S","d":556,"v":0.5},{"s":"S","d":558,"v":0.53},{"s":"S","d":561,"v":0.49},{"s":"S","d":563,"v":0.45},{"s":"S","d":566,"v":0.47},{"s":"S","d":569,"v":0.48},{"s":"S","d":572,"v":0.44},{"s":"S","d":574,"v":0.4},{"s":"S","d":577,"v":0.42},{"s":"S","d":579,"v":0.43},{"s":"S","d":582,"v":0.4},{"s":"S","d":586,"v":0.37},{"s":"S","d":590,"v":0.35},{"s":"S","d":594,"v":0.32},{"s":"S","d":598,"v":0.28},{"s":"S","d":602,"v":0.24},{"s":"S","d":605,"v":0.23},{"s":"S","d":608,"v":0.22},{"s":"S","d":612,"v":0.23},{"s":"S","d":615,"v":0.24},{"s":"S","d":618,"v":0.26},{"s":"S","d":621,"v":0.28},{"s":"S","d":623,"v":0.22},{"s":"S","d":626,"v":0.17},{"s":"S","d":630,"v":0.14},{"s":"S","d":634,"v":0.13},{"s":"S","d":640,"v":0.12},{"s":"S","d":645,"v":0.12},{"s":"S","d":650,"v":0.1},{"s":"S","d":656,"v":0.09},{"s":"S","d":664,"v":0.07},{"s":"S","d":672,"v":0.06},{"s":"S","d":682,"v":0.05},{"s":"S","d":693,"v":0.04},{"s":"S","d":704,"v":0.02},{"s":"S","d":715,"v":0.01},{"s":"S","d":728,"v":0.01},
{"s":"G","d":0,"v":0.02},{"s":"G","d":20,"v":0.02},{"s":"G","d":40,"v":0.02},{"s":"G","d":55,"v":0.02},{"s":"G","d":62,"v":0.03},{"s":"G","d":70,"v":0.04},{"s":"G","d":77,"v":0.06},{"s":"G","d":84,"v":0.09},{"s":"G","d":89,"v":0.13},{"s":"G","d":94,"v":0.19},{"s":"G","d":98,"v":0.27},{"s":"G","d":103,"v":0.35},{"s":"G","d":107,"v":0.36},{"s":"G","d":111,"v":0.36},{"s":"G","d":114,"v":0.39},{"s":"G","d":116,"v":0.42},{"s":"G","d":119,"v":0.52},{"s":"G","d":121,"v":0.63},{"s":"G","d":124,"v":0.8},{"s":"G","d":127,"v":0.99},{"s":"G","d":130,"v":1.18},{"s":"G","d":132,"v":1.35},{"s":"G","d":135,"v":1.57},{"s":"G","d":137,"v":1.76},{"s":"G","d":140,"v":1.9},{"s":"G","d":143,"v":1.97},{"s":"G","d":145,"v":1.93},{"s":"G","d":147,"v":1.89},{"s":"G","d":149,"v":1.95},{"s":"G","d":150,"v":2.0},{"s":"G","d":152,"v":1.93},{"s":"G","d":154,"v":1.87},{"s":"G","d":156,"v":1.78},{"s":"G","d":157,"v":1.71},{"s":"G","d":160,"v":1.68},{"s":"G","d":162,"v":1.66},{"s":"G","d":164,"v":1.73},{"s":"G","d":166,"v":1.79},{"s":"G","d":168,"v":1.83},{"s":"G","d":170,"v":1.87},{"s":"G","d":172,"v":1.78},{"s":"G","d":173,"v":1.71},{"s":"G","d":176,"v":1.63},{"s":"G","d":178,"v":1.56},{"s":"G","d":180,"v":1.45},{"s":"G","d":182,"v":1.35},{"s":"G","d":184,"v":1.3},{"s":"G","d":186,"v":1.25},{"s":"G","d":188,"v":1.33},{"s":"G","d":189,"v":1.4},{"s":"G","d":191,"v":1.22},{"s":"G","d":193,"v":1.09},{"s":"G","d":195,"v":1.25},{"s":"G","d":196,"v":1.35},{"s":"G","d":198,"v":1.24},{"s":"G","d":200,"v":1.15},{"s":"G","d":202,"v":1.05},{"s":"G","d":203,"v":0.99},{"s":"G","d":205,"v":1.15},{"s":"G","d":207,"v":1.28},{"s":"G","d":209,"v":1.15},{"s":"G","d":211,"v":1.04},{"s":"G","d":213,"v":1.18},{"s":"G","d":214,"v":1.3},{"s":"G","d":216,"v":1.1},{"s":"G","d":218,"v":0.94},{"s":"G","d":220,"v":0.98},{"s":"G","d":222,"v":1.04},{"s":"G","d":224,"v":1.18},{"s":"G","d":225,"v":1.28},{"s":"G","d":227,"v":1.15},{"s":"G","d":229,"v":1.07},{"s":"G","d":231,"v":1.18},{"s":"G","d":232,"v":1.25},{"s":"G","d":235,"v":1.28},{"s":"G","d":237,"v":1.3},{"s":"G","d":239,"v":1.27},{"s":"G","d":241,"v":1.28},{"s":"G","d":243,"v":1.32},{"s":"G","d":245,"v":1.35},{"s":"G","d":248,"v":1.37},{"s":"G","d":250,"v":1.4},{"s":"G","d":252,"v":1.38},{"s":"G","d":254,"v":1.35},{"s":"G","d":256,"v":1.28},{"s":"G","d":258,"v":1.2},{"s":"G","d":260,"v":1.12},{"s":"G","d":262,"v":1.07},{"s":"G","d":264,"v":1.08},{"s":"G","d":266,"v":1.09},{"s":"G","d":269,"v":1.02},{"s":"G","d":272,"v":0.94},{"s":"G","d":275,"v":0.86},{"s":"G","d":277,"v":0.79},{"s":"G","d":281,"v":0.68},{"s":"G","d":285,"v":0.58},{"s":"G","d":290,"v":0.48},{"s":"G","d":296,"v":0.4},{"s":"G","d":301,"v":0.33},{"s":"G","d":306,"v":0.27},{"s":"G","d":313,"v":0.21},{"s":"G","d":320,"v":0.17},{"s":"G","d":326,"v":0.13},{"s":"G","d":333,"v":0.09},{"s":"G","d":341,"v":0.06},{"s":"G","d":349,"v":0.04},{"s":"G","d":360,"v":0.03},{"s":"G","d":390,"v":0.02},{"s":"G","d":420,"v":0.02},{"s":"G","d":433,"v":0.03},{"s":"G","d":441,"v":0.06},{"s":"G","d":447,"v":0.1},{"s":"G","d":452,"v":0.14},{"s":"G","d":457,"v":0.2},{"s":"G","d":462,"v":0.27},{"s":"G","d":467,"v":0.32},{"s":"G","d":473,"v":0.37},{"s":"G","d":476,"v":0.45},{"s":"G","d":478,"v":0.53},{"s":"G","d":481,"v":0.65},{"s":"G","d":484,"v":0.79},{"s":"G","d":487,"v":0.95},{"s":"G","d":489,"v":1.09},{"s":"G","d":492,"v":1.22},{"s":"G","d":495,"v":1.35},{"s":"G","d":498,"v":1.47},{"s":"G","d":500,"v":1.56},{"s":"G","d":503,"v":1.67},{"s":"G","d":505,"v":1.76},{"s":"G","d":507,"v":1.85},{"s":"G","d":510,"v":1.97},{"s":"G","d":511,"v":1.93},{"s":"G","d":513,"v":1.89},{"s":"G","d":515,"v":1.95},{"s":"G","d":517,"v":2.0},{"s":"G","d":518,"v":1.92},{"s":"G","d":520,"v":1.82},{"s":"G","d":522,"v":1.74},{"s":"G","d":524,"v":1.66},{"s":"G","d":526,"v":1.63},{"s":"G","d":528,"v":1.61},{"s":"G","d":530,"v":1.55},{"s":"G","d":532,"v":1.51},{"s":"G","d":534,"v":1.53},{"s":"G","d":536,"v":1.56},{"s":"G","d":538,"v":1.45},{"s":"G","d":540,"v":1.35},{"s":"G","d":542,"v":1.38},{"s":"G","d":544,"v":1.4},{"s":"G","d":546,"v":1.32},{"s":"G","d":548,"v":1.25},{"s":"G","d":550,"v":1.3},{"s":"G","d":552,"v":1.35},{"s":"G","d":554,"v":1.25},{"s":"G","d":556,"v":1.15},{"s":"G","d":558,"v":1.22},{"s":"G","d":560,"v":1.28},{"s":"G","d":562,"v":1.12},{"s":"G","d":564,"v":0.99},{"s":"G","d":566,"v":1.04},{"s":"G","d":569,"v":1.09},{"s":"G","d":572,"v":1.28},{"s":"G","d":574,"v":1.15},{"s":"G","d":576,"v":1.04},{"s":"G","d":578,"v":0.96},{"s":"G","d":580,"v":0.89},{"s":"G","d":583,"v":0.96},{"s":"G","d":585,"v":1.02},{"s":"G","d":588,"v":0.94},{"s":"G","d":590,"v":0.98},{"s":"G","d":592,"v":1.02},{"s":"G","d":595,"v":1.1},{"s":"G","d":597,"v":1.15},{"s":"G","d":599,"v":1.19},{"s":"G","d":601,"v":1.22},{"s":"G","d":603,"v":1.18},{"s":"G","d":605,"v":1.15},{"s":"G","d":608,"v":1.2},{"s":"G","d":610,"v":1.25},{"s":"G","d":613,"v":1.22},{"s":"G","d":615,"v":1.2},{"s":"G","d":618,"v":1.24},{"s":"G","d":620,"v":1.28},{"s":"G","d":621,"v":1.1},{"s":"G","d":622,"v":0.99},{"s":"G","d":624,"v":0.9},{"s":"G","d":626,"v":0.84},{"s":"G","d":629,"v":0.76},{"s":"G","d":631,"v":0.71},{"s":"G","d":634,"v":0.69},{"s":"G","d":637,"v":0.68},{"s":"G","d":640,"v":0.65},{"s":"G","d":642,"v":0.63},{"s":"G","d":646,"v":0.55},{"s":"G","d":650,"v":0.48},{"s":"G","d":655,"v":0.4},{"s":"G","d":661,"v":0.32},{"s":"G","d":666,"v":0.26},{"s":"G","d":672,"v":0.22},{"s":"G","d":678,"v":0.17},{"s":"G","d":685,"v":0.12},{"s":"G","d":693,"v":0.08},{"s":"G","d":701,"v":0.05},{"s":"G","d":710,"v":0.03},{"s":"G","d":720,"v":0.02},{"s":"G","d":728,"v":0.02}
]
},
"vconcat": [
{
  "title": {"text": "(a) chlorophyll (mg m⁻³)", "offset": 5},
  "width": 497, "height": 194,
  "data": {"name": "a"},
  "layer": [
    {"mark": {"type": "line", "strokeJoin": "round"},
     "encoding": {
       "x": {"field": "d", "type": "quantitative", "scale": {"domain": [0, 800]}, "axis": {"values": [0,100,200,300,400,500,600,700,800], "labels": false, "title": null}},
       "y": {"field": "v", "type": "quantitative", "scale": {"domain": [0, 50]}, "axis": {"values": [0,10,20,30,40,50], "title": null}},
       "color": {"field": "s", "type": "nominal", "scale": {"domain": ["S","G","H"], "range": ["#000000","#999999","#000000"]},
         "legend": {"orient": "none", "legendX": 366, "legendY": 9, "title": null, "symbolType": "stroke", "symbolSize": 380, "labelFont": "Liberation Serif", "labelFontSize": 16, "labelColor": "black", "labelOffset": 4, "rowPadding": 0, "padding": 0, "labelExpr": "{'S':'Standard','G':'No grazing','H':'No heterotrophs'}[datum.label]"}},
       "strokeWidth": {"field": "s", "type": "nominal", "scale": {"domain": ["S","G","H"], "range": [4, 1.4, 1.1]},
         "legend": {"orient": "none", "legendX": 366, "legendY": 9, "title": null, "symbolType": "stroke", "symbolSize": 380, "labelFont": "Liberation Serif", "labelFontSize": 16, "labelColor": "black", "labelOffset": 4, "rowPadding": 0, "padding": 0, "labelExpr": "{'S':'Standard','G':'No grazing','H':'No heterotrophs'}[datum.label]"}},
       "strokeDash": {"field": "s", "type": "nominal", "scale": {"domain": ["S","G","H"], "range": [[1,0],[1,0],[9,5]]},
         "legend": {"orient": "none", "legendX": 366, "legendY": 9, "title": null, "symbolType": "stroke", "symbolSize": 380, "labelFont": "Liberation Serif", "labelFontSize": 16, "labelColor": "black", "labelOffset": 4, "rowPadding": 0, "padding": 0, "labelExpr": "{'S':'Standard','G':'No grazing','H':'No heterotrophs'}[datum.label]"}}
     }},
    {"mark": {"type": "point", "opacity": 0, "size": 1},
     "encoding": {
       "x": {"field": "d", "type": "quantitative", "scale": {"domain": [0, 800]}, "axis": {"orient": "top", "values": [0,100,200,300,400,500,600,700,800], "labels": false, "title": null}},
       "y": {"field": "v", "type": "quantitative", "scale": {"domain": [0, 50]}, "axis": {"orient": "right", "values": [0,10,20,30,40,50], "labels": false, "title": null}}
     }}
  ],
  "resolve": {"axis": {"x": "independent", "y": "independent"}}
},
{
  "title": {"text": "(b) bulk microplankton q", "offset": -2},
  "width": 497, "height": 194,
  "data": {"name": "b"},
  "layer": [
    {"mark": {"type": "line", "strokeJoin": "round"},
     "encoding": {
       "x": {"field": "d", "type": "quantitative", "scale": {"domain": [0, 800]}, "axis": {"values": [0,100,200,300,400,500,600,700,800], "labels": false, "title": null}},
       "y": {"field": "v", "type": "quantitative", "scale": {"domain": [0.5, 3.5]}, "axis": {"values": [0.5,1,1.5,2,2.5,3,3.5], "title": null, "format": "~r"}},
       "color": {"field": "s", "type": "nominal", "scale": {"domain": ["S","G","H"], "range": ["#000000","#999999","#000000"]}, "legend": null},
       "strokeWidth": {"field": "s", "type": "nominal", "scale": {"domain": ["S","G","H"], "range": [4, 1.4, 1.1]}, "legend": null},
       "strokeDash": {"field": "s", "type": "nominal", "scale": {"domain": ["S","G","H"], "range": [[1,0],[1,0],[9,5]]}, "legend": null}
     }},
    {"mark": {"type": "point", "opacity": 0, "size": 1},
     "encoding": {
       "x": {"field": "d", "type": "quantitative", "scale": {"domain": [0, 800]}, "axis": {"orient": "top", "values": [0,100,200,300,400,500,600,700,800], "labels": false, "title": null}},
       "y": {"field": "v", "type": "quantitative", "scale": {"domain": [0.5, 3.5]}, "axis": {"orient": "right", "values": [0.5,1,1.5,2,2.5,3,3.5], "labels": false, "title": null}}
     }}
  ],
  "resolve": {"axis": {"x": "independent", "y": "independent"}}
},
{
  "title": {"text": "(c) ratio of chlorophyll to total system N", "offset": -2},
  "width": 497, "height": 194,
  "data": {"name": "c"},
  "layer": [
    {"mark": {"type": "line", "strokeJoin": "round"},
     "encoding": {
       "x": {"field": "d", "type": "quantitative", "scale": {"domain": [0, 800]}, "axis": {"values": [0,100,200,300,400,500,600,700,800], "title": "Days from 01 Jan 1993"}},
       "y": {"field": "v", "type": "quantitative", "scale": {"domain": [0, 3]}, "axis": {"values": [0,0.5,1,1.5,2,2.5,3], "title": null, "format": "~r"}},
       "color": {"field": "s", "type": "nominal", "scale": {"domain": ["S","G","H"], "range": ["#000000","#999999","#000000"]}, "legend": null},
       "strokeWidth": {"field": "s", "type": "nominal", "scale": {"domain": ["S","G","H"], "range": [4, 1.4, 1.1]}, "legend": null},
       "strokeDash": {"field": "s", "type": "nominal", "scale": {"domain": ["S","G","H"], "range": [[1,0],[1,0],[9,5]]}, "legend": null}
     }},
    {"mark": {"type": "point", "opacity": 0, "size": 1},
     "encoding": {
       "x": {"field": "d", "type": "quantitative", "scale": {"domain": [0, 800]}, "axis": {"orient": "top", "values": [0,100,200,300,400,500,600,700,800], "labels": false, "title": null}},
       "y": {"field": "v", "type": "quantitative", "scale": {"domain": [0, 3]}, "axis": {"orient": "right", "values": [0,0.5,1,1.5,2,2.5,3], "labels": false, "title": null}}
     }}
  ],
  "resolve": {"axis": {"x": "independent", "y": "independent"}}
}
]
}
